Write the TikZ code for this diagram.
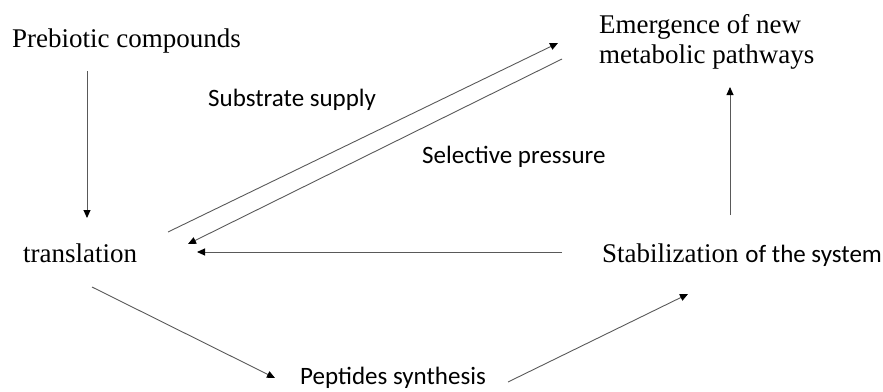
\documentclass[tikz,border=0pt]{standalone}
\usepackage{fontspec}
\usetikzlibrary{arrows.meta}
\newfontfamily\calfont{Carlito}
\newfontfamily\palfont{Liberation Serif}
\tikzset{
  serif/.style={font=\palfont\fontsize{27}{30}\selectfont, inner sep=0pt, text=black},
  sans/.style={font=\calfont\fontsize{25}{30}\selectfont, inner sep=0pt, text=black},
  conn/.style={draw=black!65, line width=0.9pt, -{Triangle[length=8pt,width=7pt,color=black]}}
}
\begin{document}
\begin{tikzpicture}[x=1pt,y=-1pt]
\useasboundingbox (0,0) rectangle (883,391);
% texts
\node[serif, anchor=base west] (pre) at (12,47) {Prebiotic compounds};
\node[serif, anchor=north west, align=left] (emer) at (599,14) {Emergence of new\\metabolic pathways};
\node[serif, anchor=base west] (trans) at (23,262) {translation};
\node[serif, anchor=base west] (stab) at (602,262) {Stabilization {\calfont\fontsize{25}{30}\selectfont of the system}};
\node[sans, anchor=base west] (sub) at (208,106) {Substrate supply};
\node[sans, anchor=base west] (sel) at (422,163) {Selective pressure};
\node[sans, anchor=base west] (pep) at (300,384) {Peptides synthesis};
% connector end points
\coordinate (a1) at (87,71);   \coordinate (a2) at (87,218);
\coordinate (b1) at (168,232); \coordinate (b2) at (558,43);
\coordinate (c1) at (562,59);  \coordinate (c2) at (188,244);
\coordinate (d1) at (562,252); \coordinate (d2) at (197,252);
\coordinate (e1) at (730,215); \coordinate (e2) at (730,87);
\coordinate (f1) at (92,287);  \coordinate (f2) at (275,378);
\coordinate (g1) at (508,382); \coordinate (g2) at (688,294);
% connectors
\draw[conn] (a1) -- (a2);
\draw[conn] (b1) -- (b2);
\draw[conn] (c1) -- (c2);
\draw[conn] (d1) -- (d2);
\draw[conn] (e1) -- (e2);
\draw[conn] (f1) -- (f2);
\draw[conn] (g1) -- (g2);
\end{tikzpicture}
\end{document}
